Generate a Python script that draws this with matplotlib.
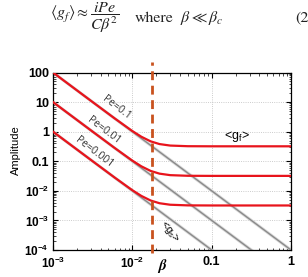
import matplotlib
matplotlib.use("Agg")
import matplotlib.pyplot as plt
from matplotlib.ticker import LogLocator, FixedLocator, FixedFormatter, NullFormatter

plt.rcParams['mathtext.fontset'] = 'custom'
plt.rcParams['mathtext.rm'] = 'Liberation Sans'
plt.rcParams['mathtext.bf'] = 'Liberation Sans:bold'
plt.rcParams['mathtext.it'] = 'Liberation Sans:italic'
plt.rcParams['mathtext.sf'] = 'Liberation Sans'

# ---- data ----
beta = [0.001, 0.003, 0.006, 0.01, 0.013, 0.017, 0.022, 0.03, 0.05, 0.1, 0.3, 1.0]
amp_pe01 = [100, 11.1, 2.80, 1.05, 0.673, 0.471, 0.381, 0.339, 0.3225, 0.32, 0.32, 0.32]
amp_pe001 = [10, 1.11, 0.280, 0.105, 0.0673, 0.0471, 0.0381, 0.0339, 0.03225, 0.032, 0.032, 0.032]
amp_pe0001 = [1, 0.111, 0.0280, 0.0105, 0.00673, 0.00471, 0.00381, 0.00339, 0.003225, 0.0032, 0.0032, 0.0032]

gs_beta = [0.001, 1.0]
gs_pe01 = [100, 1e-4]
gs_pe001 = [10, 1e-5]
gs_pe0001 = [1, 1e-6]

beta_c = 0.0177

pe_labels = ['Pe=0.1', 'Pe=0.01', 'Pe=0.001']
xticks = [1e-3, 1e-2, 0.1, 1]
xtick_labels = [r'$\mathbf{10^{-3}}$', r'$\mathbf{10^{-2}}$', '0.1', '1']
yticks = [1e-4, 1e-3, 1e-2, 0.1, 1, 10, 100]
ytick_labels = [r'$\mathbf{10^{-4}}$', r'$\mathbf{10^{-3}}$', r'$\mathbf{10^{-2}}$', '0.1', '1', '10', '100']

W, H = 308, 277
fig = plt.figure(figsize=(W / 100, H / 100), dpi=100)
ax = fig.add_axes([53 / W, 1 - 250 / H, (291 - 53) / W, (250 - 72.5) / H])
ax.set_xscale('log')
ax.set_yscale('log')
ax.set_xlim(1e-3, 1)
ax.set_ylim(1e-4, 100)

# grid
ax.grid(True, which='major', linestyle=':', color='#bbbbbb', linewidth=0.6)

# gray asymptotes
for g in (gs_pe01, gs_pe001, gs_pe0001):
    ax.plot(gs_beta, g, color='#d8d8d8', linewidth=2.2, solid_capstyle='butt', zorder=2)
    ax.plot(gs_beta, g, color='#8a8a8a', linewidth=1.0, zorder=3)

# red curves
for a in (amp_pe01, amp_pe001, amp_pe0001):
    ax.plot(beta, a, color='#e8141c', linewidth=1.6, zorder=4)

# dashed beta_c line
ax.axvline(beta_c, ymin=-0.017, ymax=1.06, color='#c9521e', linewidth=2.0,
           linestyle=(0, (3.2, 2.0)), clip_on=False, zorder=5)

# ticks
ax.xaxis.set_major_locator(FixedLocator(xticks))
ax.xaxis.set_major_formatter(FixedFormatter(xtick_labels))
ax.xaxis.set_minor_locator(LogLocator(base=10, subs=range(2, 10)))
ax.xaxis.set_minor_formatter(NullFormatter())
ax.yaxis.set_major_locator(FixedLocator(yticks))
ax.yaxis.set_major_formatter(FixedFormatter(ytick_labels))
ax.yaxis.set_minor_locator(LogLocator(base=10, subs=range(2, 10)))
ax.yaxis.set_minor_formatter(NullFormatter())
ax.tick_params(which='both', direction='in', top=True, right=True)
ax.tick_params(which='major', length=3.5, width=0.8, labelsize=9)
ax.tick_params(axis='x', which='major', pad=4)
ax.tick_params(axis='y', which='major', pad=3)
ax.tick_params(which='minor', length=1.8, width=0.5)
for lab in ax.get_xticklabels() + ax.get_yticklabels():
    lab.set_fontweight('bold')
    lab.set_family('Liberation Sans')
    if lab.get_text().startswith('$'):
        lab.set_fontsize(8.5)
for sp in ax.spines.values():
    sp.set_linewidth(0.9)

# Pe labels
pe_pos = [(116, 108), (104, 131), (94, 152)]
for txt, (px, py) in zip(pe_labels, pe_pos):
    fig.text(px / W, 1 - py / H, txt, rotation=-37, ha='center', va='center',
             rotation_mode='anchor', fontsize=7.5, color='#333333', family='Open Sans')

# curve labels
fig.text(237 / W, 1 - 136 / H, r'<g$_\mathregular{f}$>', ha='center', va='center',
         fontsize=9, family='Liberation Sans')
fig.text(170 / W, 1 - 232 / H, r'<g$_\mathregular{s}$>', ha='center', va='center',
         rotation=-52, rotation_mode='anchor', fontsize=8, family='Liberation Sans')

# axis labels
fig.text(16 / W, 1 - 150 / H, 'Amplitude', rotation=90, ha='center', va='center',
         fontsize=8, family='Liberation Sans')
fig.text(162 / W, 1 - 266 / H, r'$\boldsymbol{\beta}$', ha='center', va='center',
         fontsize=11, math_fontfamily='stix')

# equation line at top
eq_color = '#222222'
fig.text(50 / W, 1 - 18 / H,
         r'$\langle g_f\rangle \approx \dfrac{iPe}{C\beta^2}$',
         ha='left', va='center', fontsize=11.5, color=eq_color, math_fontfamily='stix')
fig.text(135 / W, 1 - 18 / H, 'where', ha='left', va='center', fontsize=11.5,
         family='STIXGeneral', color=eq_color)
fig.text(180 / W, 1 - 18 / H, r'$\beta \ll \beta_c$', ha='left', va='center',
         fontsize=11.5, color=eq_color, math_fontfamily='stix')
fig.text(295 / W, 1 - 18 / H, '(2', ha='left', va='center', fontsize=11.5,
         family='STIXGeneral', color=eq_color)

fig.savefig('out.png', dpi=100)
